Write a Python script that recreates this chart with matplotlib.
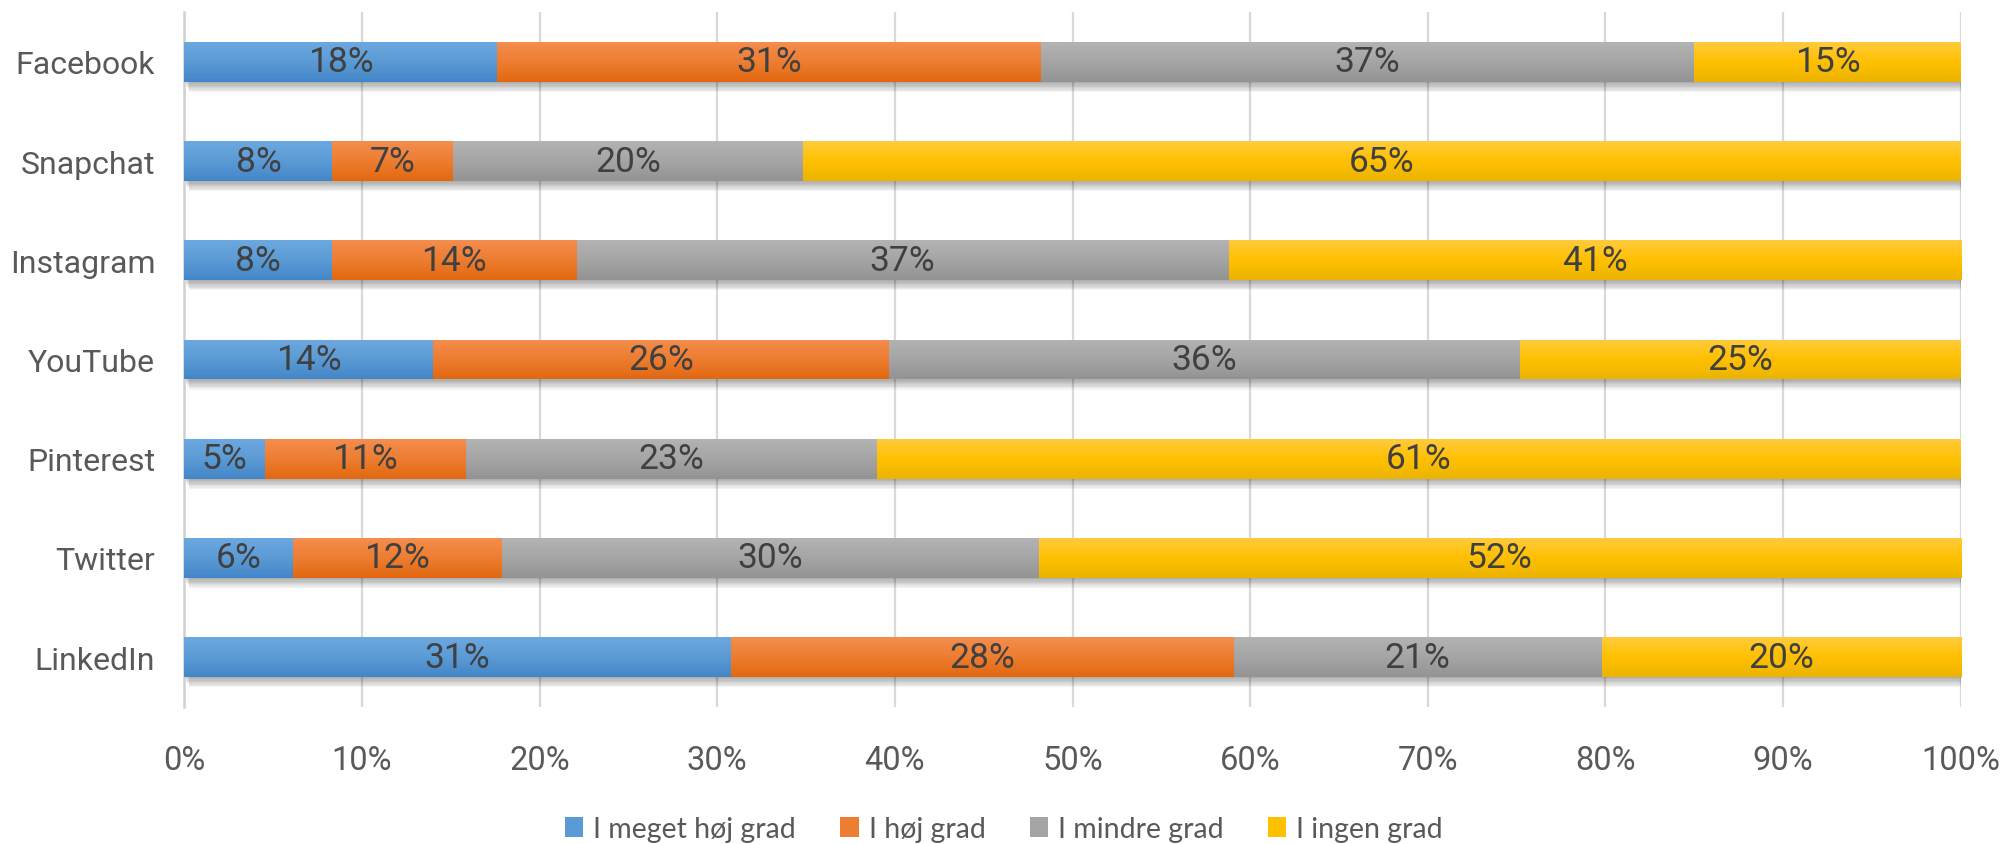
import numpy as np
import matplotlib
matplotlib.use("Agg")
import matplotlib.pyplot as plt
from matplotlib.colors import to_rgb
from matplotlib.patches import Patch

# %%
platforms = ["Facebook", "Snapchat", "Instagram", "YouTube",
             "Pinterest", "Twitter", "LinkedIn"]
series = ["I meget høj grad", "I høj grad", "I mindre grad", "I ingen grad"]

meget_hoj = [17.60, 8.34, 8.30, 13.99, 4.52, 6.11, 30.77]
hoj = [30.61, 6.78, 13.78, 25.69, 11.33, 11.77, 28.30]
mindre = [36.79, 19.70, 36.71, 35.51, 23.16, 30.21, 20.71]
ingen = [15.00, 65.18, 41.21, 24.81, 60.99, 51.91, 20.22]

xticks = [0, 10, 20, 30, 40, 50, 60, 70, 80, 90, 100]

# top / base / bottom colour of the bar gradient
colors = [("#6DA8E0", "#5B9BD5", "#4386C8"),
          ("#F48D4E", "#ED7D31", "#E2680F"),
          ("#B3B3B3", "#A5A5A5", "#939393"),
          ("#FFCB3D", "#FFC000", "#EBB400")]

# %%
fig = plt.figure(figsize=(20.08, 8.45), dpi=100)
ax = fig.add_axes([184.3 / 2008, 1 - 707.6 / 845, (1960.7 - 184.3) / 2008, (707.6 - 13.4) / 845])

y = np.arange(len(platforms))
h = 0.40
left = np.zeros(len(platforms))

for vals, (ctop, cbase, cbot) in zip([meget_hoj, hoj, mindre, ingen], colors):
    vals = np.array(vals)

    # soft drop shadow below the bars
    for k in range(8):
        ax.barh(y + 0.013 * (k + 1), vals, height=h, left=left + 0.04 * k,
                color="k", alpha=0.045, linewidth=0, zorder=2)

    bars = ax.barh(y, vals, height=h, left=left, color=cbase,
                   linewidth=0, zorder=3)

    c0 = np.array(to_rgb(ctop))
    c1 = np.array(to_rgb(cbase))
    c2 = np.array(to_rgb(cbot))
    t = np.linspace(0, 1, 64)[:, None]
    grad = np.where(t < 0.5, c0 + (c1 - c0) * (t / 0.5), c1 + (c2 - c1) * ((t - 0.5) / 0.5))
    grad = grad[:, None, :]

    for b, v, l, yy in zip(bars, vals, left, y):
        im = ax.imshow(grad, extent=(l, l + v, yy + h / 2, yy - h / 2),
                       aspect="auto", interpolation="bilinear", zorder=4)
        im.set_clip_path(b)
        ax.text(l + v / 2, yy, f"{v:.0f}%", ha="center", va="center",
                fontsize=25.5, color="#404040", family="Roboto", zorder=5)

    left = left + vals

ax.set_xlim(0, 100)
ax.set_ylim(len(platforms) - 0.5, -0.5)
ax.set_xticks(xticks)
ax.set_xticklabels([f"{x}%" for x in xticks], family="Roboto", fontsize=23.5, color="#595959")
ax.set_yticks(y)
ax.set_yticklabels(platforms, family="Roboto", fontsize=23, color="#595959")
ax.tick_params(axis="both", length=0)
ax.tick_params(axis="y", pad=21)
ax.tick_params(axis="x", pad=27)

ax.grid(axis="x", color="#D9D9D9", linewidth=1.6, zorder=0)
ax.set_axisbelow(True)
for s in ["top", "right", "bottom"]:
    ax.spines[s].set_visible(False)
ax.spines["left"].set_color("#D0D0D0")
ax.spines["left"].set_linewidth(1.8)

handles = [Patch(facecolor=c[1], edgecolor="none") for c in colors]
fig.legend(handles, series, loc="center", bbox_to_anchor=(0.5, 1 - 830 / 845),
           ncol=4, frameon=False, prop={"family": "Lato", "size": 20.5},
           handlelength=0.65, handleheight=0.65, handletextpad=0.35,
           columnspacing=1.55, labelcolor="#595959")

fig.savefig("out.png", dpi=100)
